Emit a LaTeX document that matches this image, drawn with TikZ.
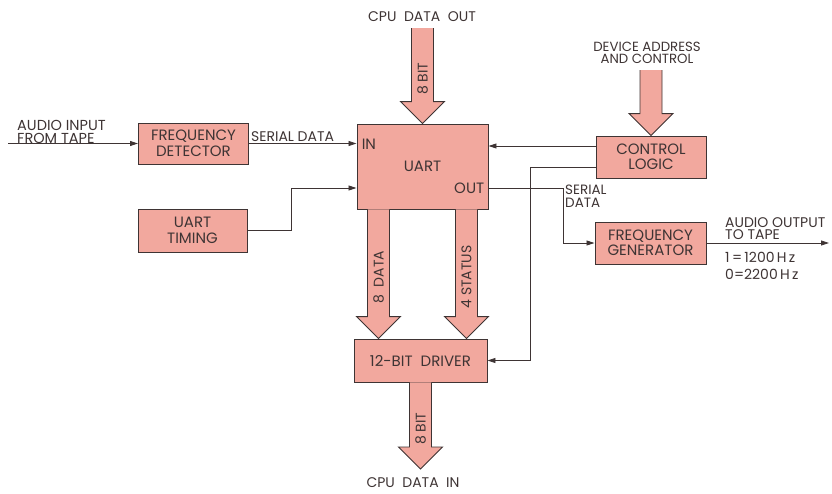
\documentclass[tikz,border=0pt]{standalone}
\usepackage{fontspec}
\setmainfont{Poppins}
\usetikzlibrary{positioning,arrows.meta,calc}
\definecolor{blkfill}{HTML}{F2A89E}
\definecolor{ink}{HTML}{3E3434}

% wide bus arrow: shaft top, tip, label
\newcommand{\busarrow}[3]{%
  \filldraw[bus] ($(#1)+(-11,0)$) -- ($(#2)+(-11,-22)$) -- ($(#2)+(-22,-22)$) -- (#2)
    -- ($(#2)+(22,-22)$) -- ($(#2)+(11,-22)$) -- ($(#1)+(11,0)$);
  \node[buslbl] at ($(#1)!0.5!(#2)+(0,3)$) {#3};}

\begin{document}
\begin{tikzpicture}[x=1pt,y=-1pt,text=ink,
  font=\fontsize{15}{15.5}\selectfont,
  blk/.style={draw=ink,fill=blkfill,line width=0.9pt,align=center,inner sep=0pt},
  bus/.style={draw=ink,fill=blkfill,line width=0.9pt,line join=miter},
  buslbl/.style={rotate=90,inner sep=0pt,font=\fontsize{14}{14}\selectfont},
  lbl/.style={align=left,inner sep=1pt},
  small/.style={font=\fontsize{13.5}{13}\selectfont},
  arr/.style={-{Triangle[length=8pt,width=5pt]},draw=ink,line width=0.8pt}]
\useasboundingbox (0,0) rectangle (832,493);
% blocks
\node[blk,minimum width=110pt,minimum height=41pt] (fdet) at (193.5,143.5) {FREQUENCY\\DETECTOR};
\node[blk,minimum width=131pt,minimum height=85pt] (uart) at (422.5,166.5) {UART};
\node[blk,minimum width=109pt,minimum height=43pt] (timing) at (192.5,230.5) {UART\\TIMING};
\node[blk,minimum width=110pt,minimum height=42pt] (ctrl) at (651,157) {CONTROL\\LOGIC};
\node[blk,minimum width=111pt,minimum height=42pt] (fgen) at (650.5,243) {FREQUENCY\\GENERATOR};
\node[blk,minimum width=133pt,minimum height=43pt] (drv) at (420.5,360.5) {12-BIT\ \ DRIVER};
\node[lbl,anchor=west] (inlbl) at ($(uart.west)+(4,-22)$) {IN};
\node[lbl,anchor=east] (outlbl) at ($(uart.east)+(-3,21.5)$) {OUT};
% labels
\node[lbl,anchor=south west,font=\fontsize{14.5}{13}\selectfont] (ainlbl) at (16,145) {AUDIO INPUT\\FROM TAPE};
\node[lbl,anchor=south west,font=\fontsize{14}{14}\selectfont] (sd1) at ($(fdet.east)+(1,-1)$) {SERIAL\ DATA};
\node[lbl,font=\fontsize{14}{14}\selectfont] (cpuout) at (422,17) {CPU\ \ DATA\ \ OUT};
\node[lbl,align=center,font=\fontsize{13.3}{12.5}\selectfont] (devlbl) at (647,53) {DEVICE ADDRESS\\AND CONTROL};
\node[lbl,small,anchor=north west] (sd2) at (564,184) {SERIAL\\DATA};
\node[lbl,anchor=south west,font=\fontsize{14}{12.5}\selectfont] (aoutlbl) at (724,241) {AUDIO OUTPUT\\TO TAPE};
\node[lbl,anchor=north west,font=\fontsize{14}{16.5}\selectfont] (freqs) at (724,251) {1\,=\,1200\,H\,z\\0=2200\,H\,z};
\node[lbl,font=\fontsize{14}{14}\selectfont] (cpuin) at (413,483) {CPU\ \ DATA\ \ IN};
% buses
\coordinate (cputop) at (422.5,28);
\busarrow{cputop}{uart.north}{8 BIT}
\coordinate (devtop) at (651,70);
\busarrow{devtop}{ctrl.north}{}
\coordinate (dtop) at ($(uart.south)+(-44,0)$);
\coordinate (dtip) at (dtop |- drv.north);
\busarrow{dtop}{dtip}{8\ \ DATA}
\coordinate (stop) at ($(uart.south)+(44,0)$);
\coordinate (stip) at (stop |- drv.north);
\busarrow{stop}{stip}{4 STATUS}
\coordinate (cputip) at (420.5,469);
\busarrow{drv.south}{cputip}{8 BIT}
% signal lines
\coordinate (tapein) at (8,143.5);
\draw[arr] (tapein) -- (fdet.west);
\draw[arr] (fdet.east) -- (fdet.east -| uart.west);
\coordinate (tin) at ($(uart.west)+(0,21.5)$);
\draw[arr] (timing.east) -- ++(43.5,0) |- (tin);
\coordinate (c1) at ($(ctrl.west)+(0,-11)$);
\draw[arr] (c1) -- (c1 -| uart.east);
\coordinate (c2) at ($(ctrl.west)+(0,10)$);
\draw[arr] (c2) -- ++(-65,0) |- (drv.east);
\coordinate (tout) at ($(uart.east)+(0,21.5)$);
\draw[arr] (tout) -- ++(75,0) |- (fgen.west);
\coordinate (tapeout) at (829,243);
\draw[arr] (fgen.east) -- (tapeout);
\end{tikzpicture}
\end{document}
